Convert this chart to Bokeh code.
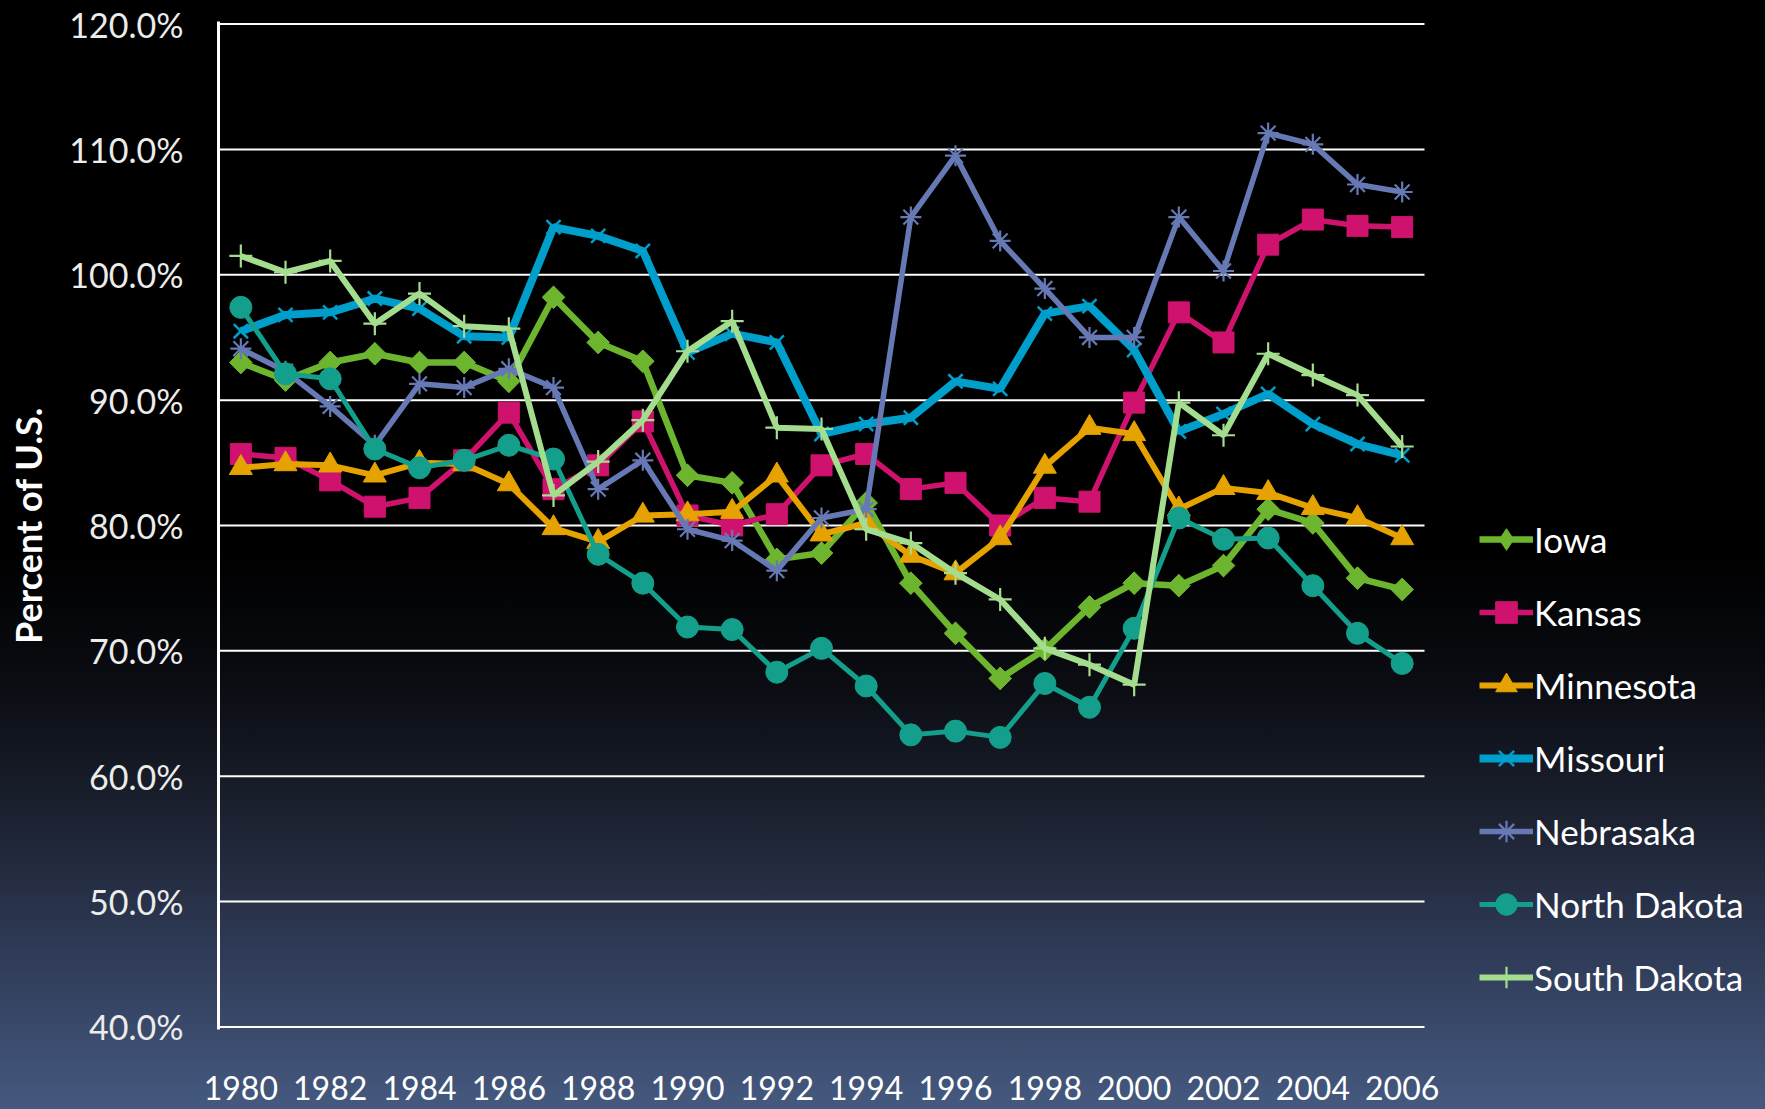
from math import pi
from bokeh.plotting import figure
from bokeh.models import Range1d, FixedTicker, PrintfTickFormatter, Legend, LegendItem
from bokeh.embed import file_html
from bokeh.resources import INLINE

years = list(range(1980, 2007))
tick_years = [1980, 1982, 1984, 1986, 1988, 1990, 1992, 1994, 1996, 1998, 2000, 2002, 2004, 2006]
y_ticks = [40, 50, 60, 70, 80, 90, 100, 110, 120]

iowa = [93.0, 91.6, 93.0, 93.7, 93.0, 93.0, 91.5, 98.2, 94.6, 93.1, 84.0, 83.4, 77.3, 77.8,
        81.8, 75.4, 71.4, 67.8, 70.1, 73.5, 75.4, 75.2, 76.8, 81.3, 80.2, 75.8, 74.9]
kansas = [85.7, 85.4, 83.6, 81.5, 82.2, 85.2, 89.0, 82.9, 84.8, 88.3, 80.8, 80.0, 80.9, 84.8,
          85.7, 82.9, 83.4, 80.0, 82.2, 81.9, 89.8, 97.0, 94.6, 102.4, 104.4, 103.9, 103.8]
minnesota = [84.6, 84.9, 84.8, 84.0, 85.0, 84.9, 83.3, 79.8, 78.7, 80.8, 80.9, 81.1, 84.0, 79.3,
             80.2, 77.6, 76.2, 79.0, 84.7, 87.8, 87.3, 81.3, 83.0, 82.6, 81.4, 80.6, 79.0]
missouri = [95.5, 96.8, 97.0, 98.1, 97.3, 95.1, 95.0, 103.8, 103.1, 101.9, 93.8, 95.3, 94.6, 87.3,
            88.1, 88.6, 91.5, 90.9, 96.9, 97.5, 94.0, 87.5, 88.9, 90.5, 88.1, 86.5, 85.6]
nebraska = [94.1, 92.3, 89.5, 86.4, 91.3, 91.0, 92.5, 91.0, 82.9, 85.2, 79.7, 78.8, 76.4, 80.6,
            81.3, 104.6, 109.5, 102.7, 98.9, 95.0, 95.0, 104.6, 100.3, 111.3, 110.4, 107.2, 106.6]
north_dakota = [97.4, 92.1, 91.7, 86.1, 84.6, 85.2, 86.4, 85.3, 77.7, 75.4, 71.9, 71.7, 68.3, 70.2,
                67.2, 63.3, 63.6, 63.1, 67.4, 65.5, 71.8, 80.6, 78.9, 79.0, 75.2, 71.4, 69.0]
south_dakota = [101.5, 100.2, 101.1, 96.1, 98.5, 95.9, 95.7, 82.4, 85.1, 88.4, 93.9, 96.3, 87.8, 87.7,
                79.7, 78.6, 76.2, 74.1, 70.2, 68.9, 67.3, 89.8, 87.2, 93.7, 92.0, 90.4, 86.3]

names = ["Iowa", "Kansas", "Minnesota", "Missouri", "Nebrasaka", "North Dakota", "South Dakota"]
values = [iowa, kansas, minnesota, missouri, nebraska, north_dakota, south_dakota]
colors = ["#6EB52F", "#D0126F", "#E5A200", "#009ECB", "#6679B5", "#139F8B", "#A5DD8F"]
markers = ["square", "square", "triangle", "x", "asterisk", "circle", "cross"]
legend_markers = ["diamond", "square", "triangle", "x", "asterisk", "circle", "cross"]
angles = [pi / 4, 0, 0, 0, 0, 0, 0]
msizes = [16, 21, 23, 20, 21, 22, 23]
mline = [1, 1, 1, 2.5, 2.2, 1, 2.2]
lwidths = [6.5, 5.5, 6, 8, 5.5, 5, 6]

# layout: plotting area 218..1424 px holds the 27 year slots; the frame runs on to
# the right edge so that the legend can sit inside it
W, H = 1765, 1109
left, plot_right = 218, 1424
x_start = years[0] - 0.5
x_plot_end = years[-1] + 0.5
px_per_year = (plot_right - left) / (x_plot_end - x_start)
x_end = x_start + (W - left) / px_per_year

p = figure(width=W, height=H, output_backend="svg", toolbar_location=None,
           x_range=Range1d(x_start, x_end), y_range=Range1d(39.8, 120.2),
           min_border_left=left, min_border_right=0, min_border_top=21, min_border_bottom=80)
p.styles = {"background": "linear-gradient(to bottom, #000000 0%, #000000 50%, #0b0d13 62%, "
                          "#1c2231 74%, #2f3b57 86%, #45597f 100%)"}
p.background_fill_alpha = 0
p.border_fill_alpha = 0
p.outline_line_color = None

p.yaxis.ticker = FixedTicker(ticks=y_ticks)
p.yaxis.formatter = PrintfTickFormatter(format="%.1f%%")
p.yaxis.axis_line_color = "white"
p.yaxis.axis_line_width = 3
p.yaxis.major_tick_line_color = None
p.yaxis.minor_tick_line_color = None
p.yaxis.major_label_text_color = "#ececec"
p.yaxis.major_label_text_font = "Lato"
p.yaxis.major_label_text_font_size = "34px"
p.yaxis.major_label_standoff = 29
p.yaxis.axis_label = "Percent of U.S."
p.yaxis.axis_label_text_color = "white"
p.yaxis.axis_label_text_font = "Lato"
p.yaxis.axis_label_text_font_style = "bold"
p.yaxis.axis_label_text_font_size = "36px"
p.yaxis.axis_label_standoff = 16

p.xaxis.ticker = FixedTicker(ticks=tick_years)
p.xaxis.formatter = PrintfTickFormatter(format="%d")
p.xaxis.axis_line_color = None
p.xaxis.major_tick_line_color = None
p.xaxis.minor_tick_line_color = None
p.xaxis.major_label_text_color = "white"
p.xaxis.major_label_text_font = "Lato"
p.xaxis.major_label_text_font_size = "32px"
p.xaxis.major_label_standoff = 40

p.xgrid.grid_line_color = None
p.ygrid.grid_line_color = None
p.segment(x0=[x_start] * len(y_ticks), y0=y_ticks, x1=[x_plot_end] * len(y_ticks), y1=y_ticks,
          line_color="white", line_width=2)

items = []
for name, vals, col, mk, lmk, ang, ms, ml, lw in zip(names, values, colors, markers, legend_markers,
                                                   angles, msizes, mline, lwidths):
    lr = p.line(years, vals, line_color=col, line_width=lw)
    key_r = None
    if lmk != mk:
        # diamond drawn underneath the rotated squares; it supplies the legend key shape
        key_r = p.scatter(years, vals, marker=lmk, size=22, fill_color=col, line_color=col,
                          line_width=1)
    sr = p.scatter(years, vals, marker=mk, size=ms, angle=ang, fill_color=col,
                   line_color=col, line_width=ml)
    items.append(LegendItem(label=name, renderers=[lr, key_r if key_r is not None else sr]))

legend = Legend(items=items, location=(1479 - left, 24), glyph_width=54, glyph_height=56,
                label_height=56, spacing=17, padding=0, margin=0, label_standoff=1,
                background_fill_alpha=0, border_line_color=None,
                label_text_color="white", label_text_font="Lato", label_text_font_size="35px")
p.add_layout(legend, "center")

open("out.html", "w").write(file_html(p, INLINE))
